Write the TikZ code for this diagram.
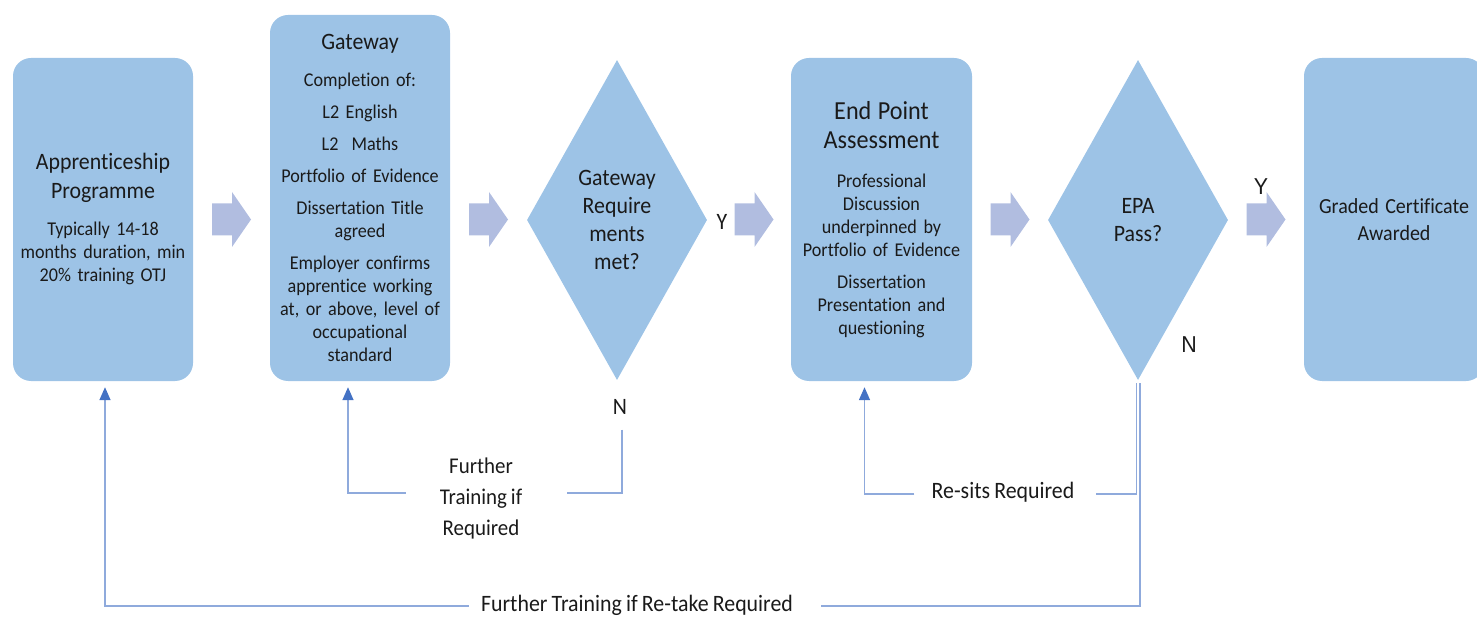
\documentclass[tikz,border=0pt]{standalone}
\usepackage{fontspec}
\setmainfont{Carlito}[FakeStretch=0.93, WordSpace=0.85, Ligatures=NoCommon]
\newfontfamily\arialf{Liberation Sans}[FakeStretch=0.93]
\usetikzlibrary{shapes.geometric,arrows.meta,calc}
\definecolor{boxblue}{HTML}{9DC3E6}
\definecolor{arrowlav}{HTML}{B1BDE0}
\definecolor{linebl}{HTML}{8FAADC}
\definecolor{tipbl}{HTML}{4472C4}
\definecolor{txt}{HTML}{1A1A1A}
\begin{document}
\begin{tikzpicture}[x=1pt,y=-1pt,
  box/.style={fill=boxblue, rounded corners=18pt, minimum width=180pt, inner sep=0pt,
    text width=176pt, align=center, text=txt, font=\fontsize{19.5}{23}\selectfont},
  dia/.style={diamond, fill=boxblue, aspect=0.5625, minimum width=180pt, minimum height=320pt,
    inner sep=0pt, align=center, text=txt, font=\fontsize{23.5}{28}\selectfont},
  lab/.style={inner sep=0pt, align=center, text=txt, font=\fontsize{23.5}{31}\selectfont},
  conn/.style={draw=linebl, line width=1.5pt},
  arr/.style={-{Triangle[width=11pt,length=13pt,color=tipbl]}, shorten >=6pt},
  barrow/.pic={\fill[arrowlav] (-19.5,-16) -- (0.5,-16) -- (0.5,-27.5) -- (19.5,0)
     -- (0.5,27.5) -- (0.5,16) -- (-19.5,16) -- cycle;}
]
\useasboundingbox (0,0) rectangle (1477,617);

% main boxes
\node[box, minimum height=323pt] (ap) at (103,219.5)
  {{\fontsize{23.5}{29}\selectfont Apprenticeship\\Programme\par}\vspace{14pt}
   Typically 14-18\\months duration, min\\20\% training OTJ};
\node[box, minimum height=366pt] (gw) at (360,198)
  {{\fontsize{23.5}{29}\selectfont Gateway\par}\vspace{14pt}
   Completion of:\\[9pt]L2 English\\[9pt]L2\ \ Maths\\[9pt]Portfolio of Evidence\\[9pt]Dissertation Title\\agreed\\[9pt]Employer confirms\\apprentice working\\at, or above, level of\\occupational\\standard};
\node[dia] (gd) at (617,220) {Gateway\\Require\\ments\\met?};
\node[box, minimum height=323pt, minimum width=181pt] (epa) at (881.5,219.5)
  {{\fontsize{26}{29}\selectfont End Point\\Assessment\par}\vspace{16pt}
   Professional\\Discussion\\underpinned by\\Portfolio of Evidence\\[9pt]Dissertation\\Presentation and\\questioning};
\node[dia] (ed) at (1138,220) {EPA\\Pass?};
\node[box, minimum height=323pt] (gc) at (1394,219.5)
  {{\fontsize{21.5}{27}\selectfont Graded Certificate\\Awarded\par}};

% block arrows
\coordinate (m1) at ($(ap.east)!.5!(gw.west)$);
\coordinate (m2) at ($(gw.east)!.5!(gd.west)$);
\coordinate (m3) at ($(gd.east)!.56!(epa.west)$);
\coordinate (m4) at ($(epa.east)!.5!(ed.west)$);
\coordinate (m5) at ($(ed.east)!.5!(gc.west)$);
\pic at (m1 |- ap.center) {barrow};
\pic at (m2 |- ap.center) {barrow};
\pic at (m3 |- ap.center) {barrow};
\pic at (m4 |- ap.center) {barrow};
\pic at (m5 |- ap.center) {barrow};

% Y / N labels
\node[lab] (y1) at (722,222) {Y};
\node[lab] (n1) at (620,407) {N};
\node[lab, font=\arialf\fontsize{23}{27}\selectfont] (y2) at (1261,187) {Y};
\node[lab, font=\arialf\fontsize{23}{27}\selectfont] (n2) at (1189,345) {N};

% loop labels
\node[lab, font=\fontsize{22.5}{31}\selectfont] (ftr) at (481,498) {Further\\Training if\\Required};
\node[lab] (rs) at (1003,492) {Re-sits Required};
\node[lab] (ftt) at (637,605) {Further Training if Re-take Required};

% loop connectors
\draw[conn] ([shift={(2pt,-15pt)}]n1.south) |- ([shift={(45pt,5pt)}]ftr.east);
\draw[conn,arr] ([shift={(-34pt,5pt)}]ftr.west) -| ([xshift=-12pt]gw.south);

\draw[conn] ([shift={(-1.5pt,-3pt)}]ed.south) |- ([shift={(21pt,-2pt)}]rs.east);
\draw[conn,arr] ([shift={(-17pt,-2pt)}]rs.west) -| ([xshift=-17pt]epa.south);

\draw[conn] ([shift={(2pt,-3pt)}]ed.south) |- ([shift={(28pt,-1pt)}]ftt.east);
\draw[conn,arr] ([shift={(-12pt,-1pt)}]ftt.west) -| ([xshift=2pt]ap.south);
\end{tikzpicture}
\end{document}
